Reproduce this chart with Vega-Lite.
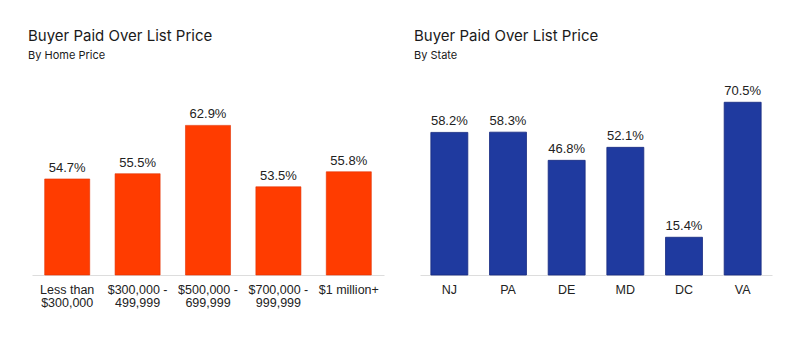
{
  "$schema": "https://vega.github.io/schema/vega-lite/v6.json",
  "background": "white",
  "padding": {"left": 28, "top": 29, "right": 28, "bottom": 3},
  "spacing": 30,
  "config": {
    "view": {"stroke": null},
    "title": {"anchor": "start", "font": "Inter", "fontSize": 15, "fontWeight": "normal", "color": "#1a1a1a", "subtitleFont": "Inter", "subtitleFontSize": 11, "subtitleColor": "#1a1a1a", "subtitlePadding": 6, "offset": 18},
    "axis": {"labelFont": "Liberation Sans", "labelFontSize": 12.5, "labelColor": "#222", "domainColor": "#dddddd", "ticks": false, "grid": false, "title": null, "labelPadding": 8, "labelAngle": 0, "labelLineHeight": 13}
  },
  "datasets": {
    "price": [
      {"category": "Less than $300,000", "pct": 54.7},
      {"category": "$300,000 - 499,999", "pct": 55.5},
      {"category": "$500,000 - 699,999", "pct": 62.9},
      {"category": "$700,000 - 999,999", "pct": 53.5},
      {"category": "$1 million+", "pct": 55.8}
    ],
    "state": [
      {"state": "NJ", "pct": 58.2},
      {"state": "PA", "pct": 58.3},
      {"state": "DE", "pct": 46.8},
      {"state": "MD", "pct": 52.1},
      {"state": "DC", "pct": 15.4},
      {"state": "VA", "pct": 70.5}
    ]
  },
  "hconcat": [
    {
      "width": 352,
      "height": 196,
      "title": {"text": "Buyer Paid Over List Price", "subtitle": "By Home Price", "dx": -4},
      "data": {"name": "price"},
      "transform": [{"calculate": "format(datum.pct, '.1f') + '%'", "as": "label"}],
      "encoding": {
        "x": {"field": "category", "type": "nominal", "sort": null,
          "scale": {"paddingInner": 0.36, "paddingOuter": 0.18},
          "axis": {"labelExpr": "split(replace(replace(datum.label, ' - ', ' -|'), 'than ', 'than|'), '|')"}},
        "y": {"field": "pct", "type": "quantitative", "scale": {"domain": [40, 70], "clamp": true}, "axis": null}
      },
      "layer": [
        {"mark": {"type": "bar", "color": "#FF3C00", "stroke": "#e03000", "strokeWidth": 0.6}},
        {"mark": {"type": "text", "baseline": "bottom", "dy": -4, "font": "Liberation Sans", "fontSize": 13, "color": "#222"},
          "encoding": {"text": {"field": "label", "type": "nominal"}}}
      ]
    },
    {
      "width": 352,
      "height": 196,
      "title": {"text": "Buyer Paid Over List Price", "subtitle": "By State", "dx": -6},
      "data": {"name": "state"},
      "transform": [{"calculate": "format(datum.pct, '.1f') + '%'", "as": "label"}],
      "encoding": {
        "x": {"field": "state", "type": "nominal", "sort": null,
          "scale": {"paddingInner": 0.37, "paddingOuter": 0.185}},
        "y": {"field": "pct", "type": "quantitative", "scale": {"domain": [0, 80]}, "axis": null}
      },
      "layer": [
        {"mark": {"type": "bar", "color": "#1F3A9F", "stroke": "#162a80", "strokeWidth": 0.8}},
        {"mark": {"type": "text", "baseline": "bottom", "dy": -4, "font": "Liberation Sans", "fontSize": 13, "color": "#222"},
          "encoding": {"text": {"field": "label", "type": "nominal"}}}
      ]
    }
  ]
}
